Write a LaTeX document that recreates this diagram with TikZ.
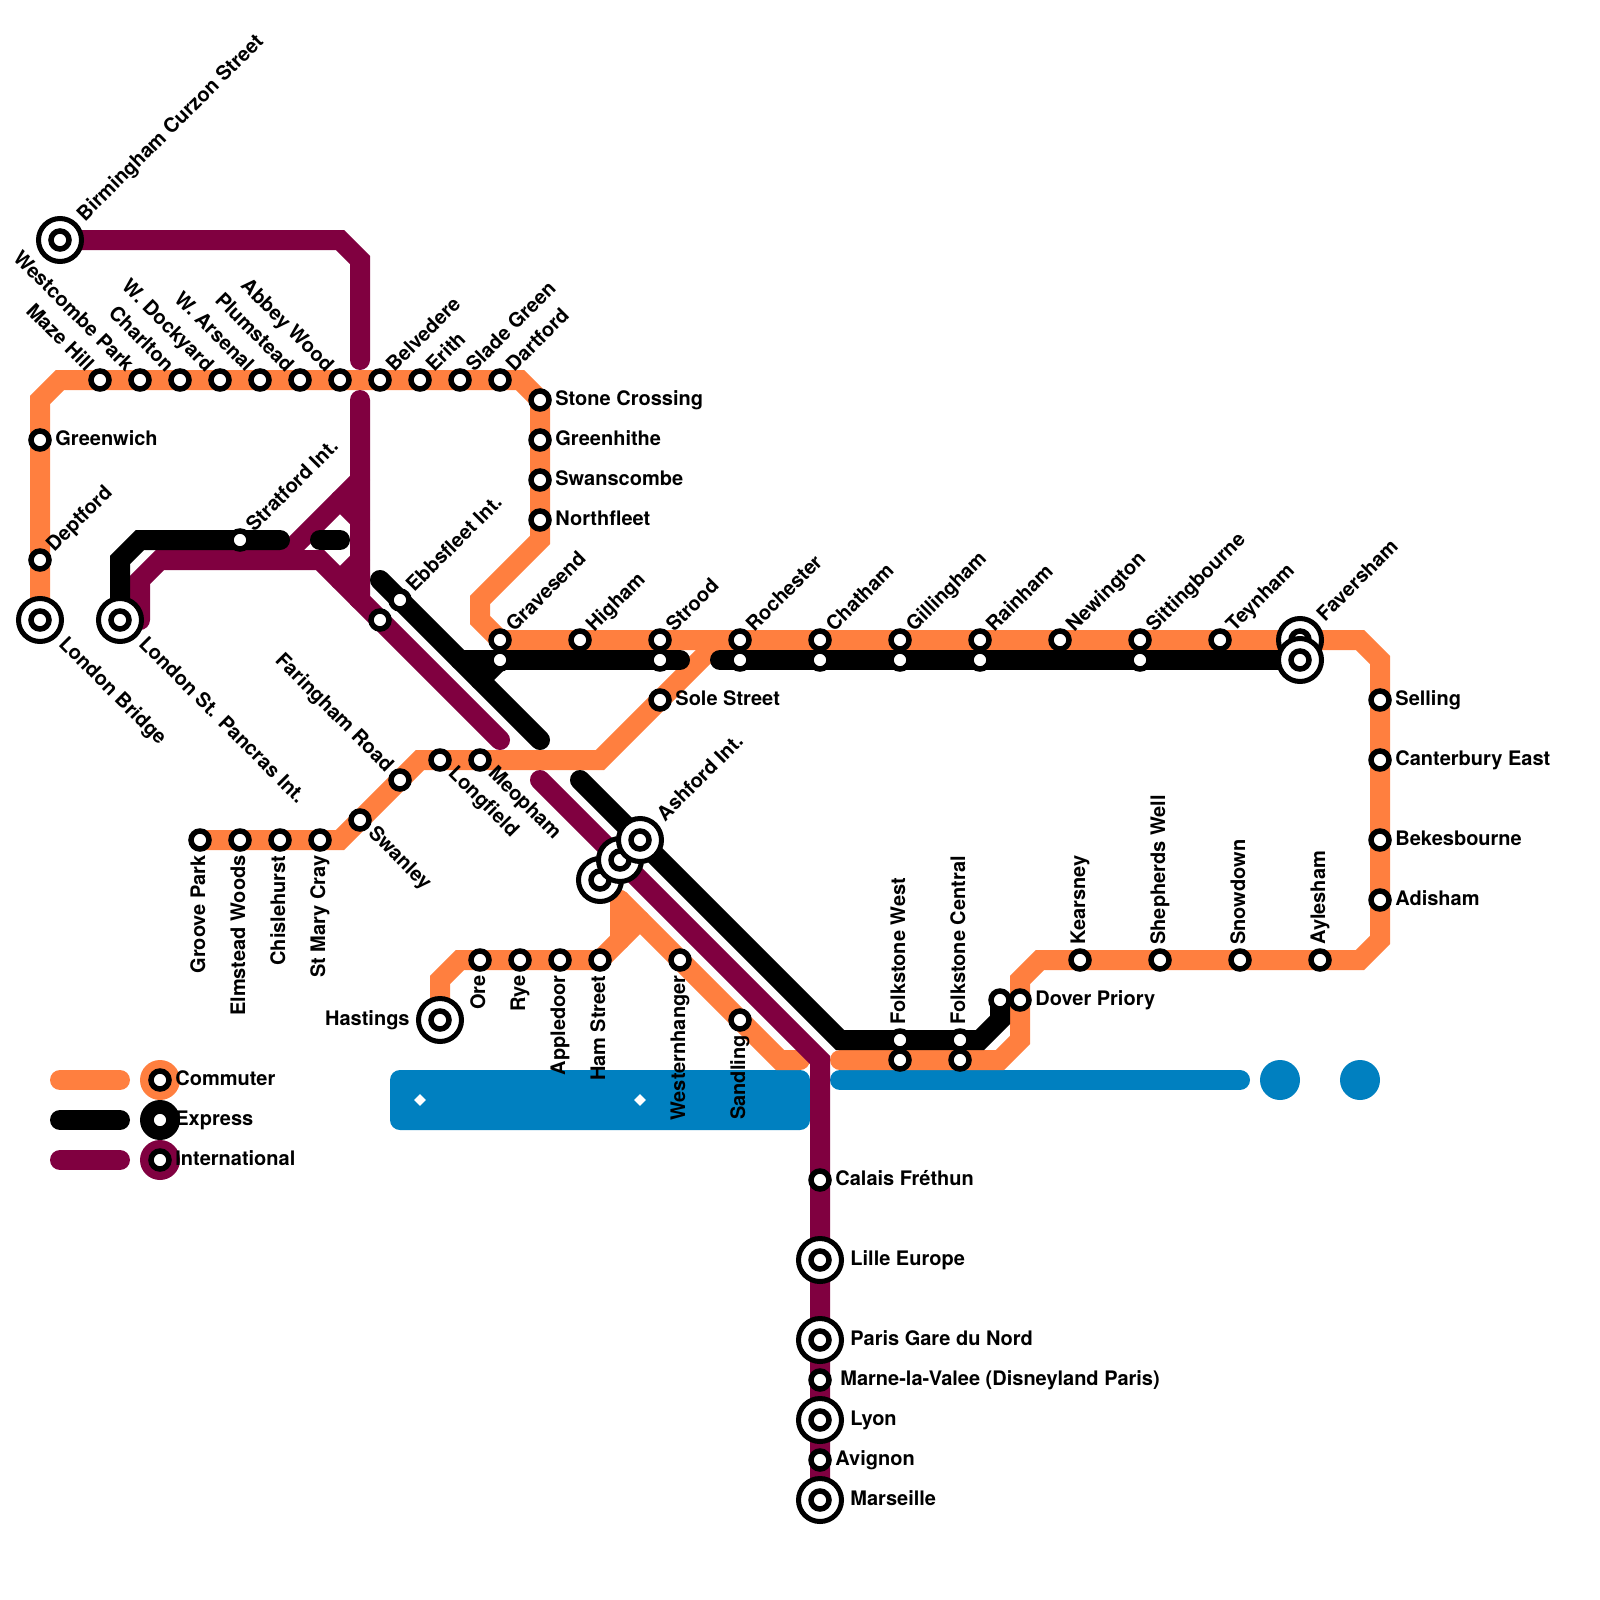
\documentclass[tikz,border=0pt]{standalone}
\usepackage{fontspec}
\setmainfont{TeX Gyre Heros}
\usetikzlibrary{shapes.geometric, backgrounds}

\definecolor{commutercol}{HTML}{FF7F3F}
\definecolor{intlcol}{HTML}{800040}
\definecolor{seacol}{HTML}{0080C0}

\begin{document}
\begin{tikzpicture}[
      x=0.5pt, y=-0.5pt,
      commuter/.style={draw=commutercol, line width=10pt, line cap=round},
      express/.style={draw=black, line width=10pt, line cap=round},
      intl/.style={draw=intlcol, line width=10pt, line cap=round},
      sea/.style={draw=seacol, line width=10pt, line cap=round},
      stn/.style={circle, draw=black, fill=white, line width=2.75pt, minimum size=9pt, inner sep=0pt, outer sep=0pt},
      bigstn/.style={circle, draw=black, fill=white, line width=2.5pt, minimum size=21.5pt, inner sep=0pt, outer sep=0pt, label={[stn]center:{}}},
      lab/.style={font=\bfseries\fontsize{10pt}{12pt}\selectfont, inner sep=0pt, text height=7pt, text depth=2pt},
      labE/.style={lab, anchor=west, xshift=7.5pt},
      labW/.style={lab, anchor=east, xshift=-7.5pt},
      labNE/.style={lab, rotate=45, anchor=west, xshift=7.5pt},
      labSE/.style={lab, rotate=-45, anchor=west, xshift=7.5pt},
      labNW/.style={lab, rotate=-45, anchor=east, xshift=-7.5pt},
      labN/.style={lab, rotate=90, anchor=west, xshift=7.5pt},
      labS/.style={lab, rotate=90, anchor=east, xshift=-7.5pt},
      far/.style={xshift=7.5pt}
    ]
    \useasboundingbox (0,0) rectangle (1600,1600);

    % top row
    \node[stn] (maze) at (100,380) {};
    \node[stn] (westcombe) at (140,380) {};
    \node[stn] (charlton) at (180,380) {};
    \node[stn] (dockyard) at (220,380) {};
    \node[stn] (arsenal) at (260,380) {};
    \node[stn] (plumstead) at (300,380) {};
    \node[stn] (abbey) at (340,380) {};
    \node[stn] (belvedere) at (380,380) {};
    \node[stn] (erith) at (420,380) {};
    \node[stn] (slade) at (460,380) {};
    \node[stn] (dartford) at (500,380) {};
    \node[labNW] (mazet) at (maze) {Maze Hill};
    \node[labNW] (westcombet) at (westcombe) {Westcombe Park};
    \node[labNW] (charltont) at (charlton) {Charlton};
    \node[labNW] (dockyardt) at (dockyard) {W. Dockyard};
    \node[labNW] (arsenalt) at (arsenal) {W. Arsenal};
    \node[labNW] (plumsteadt) at (plumstead) {Plumstead};
    \node[labNW] (abbeyt) at (abbey) {Abbey Wood};
    \node[labNE] (belvederet) at (belvedere) {Belvedere};
    \node[labNE] (eritht) at (erith) {Erith};
    \node[labNE] (sladet) at (slade) {Slade Green};
    \node[labNE] (dartfordt) at (dartford) {Dartford};

    % left side
    \node[stn] (greenwich) at (40,440) {};
    \node[stn] (deptford) at (40,560) {};
    \node[bigstn] (bridge) at (40,620) {};
    \node[bigstn] (pancras) at (120,620) {};
    \node[bigstn] (birmingham) at (60,240) {};
    \node[stn] (stratford) at (240,540) {};
    \node[labE] (greenwicht) at (greenwich) {Greenwich};
    \node[labNE] (deptfordt) at (deptford) {Deptford};
    \node[labSE, far] (bridget) at (bridge) {London Bridge};
    \node[labSE, far] (pancrast) at (pancras) {London St. Pancras Int.};
    \node[labNE, far] (birminghamt) at (birmingham) {Birmingham Curzon Street};
    \node[labNE] (stratfordt) at (stratford) {Stratford Int.};

    % down to Gravesend
    \node[stn] (stone) at (540,400) {};
    \node[stn] (greenhithe) at (540,440) {};
    \node[stn] (swanscombe) at (540,480) {};
    \node[stn] (northfleet) at (540,520) {};
    \node[stn] (ebbsfleetb) at (400,600) {};
    \node[stn] (ebbsfleet) at (380,620) {};
    \node[labE] (stonet) at (stone) {Stone Crossing};
    \node[labE] (greenhithet) at (greenhithe) {Greenhithe};
    \node[labE] (swanscombet) at (swanscombe) {Swanscombe};
    \node[labE] (northfleett) at (northfleet) {Northfleet};
    \node[labNE] (ebbsfleett) at (ebbsfleetb) {Ebbsfleet Int.};

    % main line, black stops first
    \node[stn] (gravesendb) at (500,660) {};
    \node[stn] (stroodb) at (660,660) {};
    \node[stn] (rochesterb) at (740,660) {};
    \node[stn] (chathamb) at (820,660) {};
    \node[stn] (gillinghamb) at (900,660) {};
    \node[stn] (rainhamb) at (980,660) {};
    \node[stn] (sittingb) at (1140,660) {};
    \node[stn] (gravesend) at (500,640) {};
    \node[stn] (higham) at (580,640) {};
    \node[stn] (strood) at (660,640) {};
    \node[stn] (rochester) at (740,640) {};
    \node[stn] (chatham) at (820,640) {};
    \node[stn] (gillingham) at (900,640) {};
    \node[stn] (rainham) at (980,640) {};
    \node[stn] (newington) at (1060,640) {};
    \node[stn] (sitting) at (1140,640) {};
    \node[stn] (teynham) at (1220,640) {};
    \node[bigstn] (faversham) at (1300,640) {};
    \node[bigstn] (favershamb) at (1300,660) {};
    \node[labNE] (gravesendt) at (gravesend) {Gravesend};
    \node[labNE] (highamt) at (higham) {Higham};
    \node[labNE] (stroodt) at (strood) {Strood};
    \node[labNE] (rochestert) at (rochester) {Rochester};
    \node[labNE] (chathamt) at (chatham) {Chatham};
    \node[labNE] (gillinghamt) at (gillingham) {Gillingham};
    \node[labNE] (rainhamt) at (rainham) {Rainham};
    \node[labNE] (newingtont) at (newington) {Newington};
    \node[labNE] (sittingt) at (sitting) {Sittingbourne};
    \node[labNE] (teynhamt) at (teynham) {Teynham};
    \node[labNE, far] (favershamt) at (faversham) {Faversham};

    % branch to Groove Park
    \node[stn] (sole) at (660,700) {};
    \node[stn] (meopham) at (480,760) {};
    \node[stn] (longfield) at (440,760) {};
    \node[stn] (faringham) at (400,780) {};
    \node[stn] (swanley) at (360,820) {};
    \node[stn] (cray) at (320,840) {};
    \node[stn] (chislehurst) at (280,840) {};
    \node[stn] (elmstead) at (240,840) {};
    \node[stn] (groove) at (200,840) {};
    \node[labE] (solet) at (sole) {Sole Street};
    \node[labSE] (meophamt) at (meopham) {Meopham};
    \node[labSE] (longfieldt) at (longfield) {Longfield};
    \node[labNW] (faringhamt) at (faringham) {Faringham Road};
    \node[labSE] (swanleyt) at (swanley) {Swanley};
    \node[labS] (crayt) at (cray) {St Mary Cray};
    \node[labS] (chislehurstt) at (chislehurst) {Chislehurst};
    \node[labS] (elmsteadt) at (elmstead) {Elmstead Woods};
    \node[labS] (groovet) at (groove) {Groove Park};

    % Ashford and the Hastings branch
    \node[bigstn] (ashc) at (600,880) {};
    \node[bigstn] (ashb) at (620,860) {};
    \node[bigstn] (ashford) at (640,840) {};
    \node[labNE, far] (ashfordt) at (ashford) {Ashford Int.};
    \node[stn] (ham) at (600,960) {};
    \node[stn] (appledoor) at (560,960) {};
    \node[stn] (rye) at (520,960) {};
    \node[stn] (ore) at (480,960) {};
    \node[bigstn] (hastings) at (440,1020) {};
    \node[stn] (westernhanger) at (680,960) {};
    \node[stn] (sandling) at (740,1020) {};
    \node[labS] (hamt) at (ham) {Ham Street};
    \node[labS] (appledoort) at (appledoor) {Appledoor};
    \node[labS] (ryet) at (rye) {Rye};
    \node[labS] (oret) at (ore) {Ore};
    \node[labW, xshift=-7.5pt] (hastingst) at (hastings) {Hastings};
    \node[labS] (westernhangert) at (westernhanger) {Westernhanger};
    \node[labS] (sandlingt) at (sandling) {Sandling};

    % coast
    \node[stn] (folkwb) at (900,1040) {};
    \node[stn] (folkcb) at (960,1040) {};
    \node[stn] (folkw) at (900,1060) {};
    \node[stn] (folkc) at (960,1060) {};
    \node[stn] (doverb) at (1000,1000) {};
    \node[stn] (dover) at (1020,1000) {};
    \node[stn] (kearsney) at (1080,960) {};
    \node[stn] (shepherds) at (1160,960) {};
    \node[stn] (snowdown) at (1240,960) {};
    \node[stn] (aylesham) at (1320,960) {};
    \node[stn] (adisham) at (1380,900) {};
    \node[stn] (bekesbourne) at (1380,840) {};
    \node[stn] (canterbury) at (1380,760) {};
    \node[stn] (selling) at (1380,700) {};
    \node[labN] (folkwt) at (folkwb) {Folkstone West};
    \node[labN] (folkct) at (folkcb) {Folkstone Central};
    \node[labE] (dovert) at (dover) {Dover Priory};
    \node[labN] (kearsneyt) at (kearsney) {Kearsney};
    \node[labN] (shepherdst) at (shepherds) {Shepherds Well};
    \node[labN] (snowdownt) at (snowdown) {Snowdown};
    \node[labN] (ayleshamt) at (aylesham) {Aylesham};
    \node[labE] (adishamt) at (adisham) {Adisham};
    \node[labE] (bekesbournet) at (bekesbourne) {Bekesbourne};
    \node[labE] (canterburyt) at (canterbury) {Canterbury East};
    \node[labE] (sellingt) at (selling) {Selling};

    % continent
    \node[stn] (calais) at (820,1180) {};
    \node[bigstn] (lille) at (820,1260) {};
    \node[bigstn] (paris) at (820,1340) {};
    \node[stn] (marne) at (820,1380) {};
    \node[bigstn] (lyon) at (820,1420) {};
    \node[stn] (avignon) at (820,1460) {};
    \node[bigstn] (marseille) at (820,1500) {};
    \node[labE] (calaist) at (calais) {Calais Fréthun};
    \node[labE, far] (lillet) at (lille) {Lille Europe};
    \node[labE, far] (parist) at (paris) {Paris Gare du Nord};
    \node[labE, xshift=2.5pt] (marnet) at (marne) {Marne-la-Valee (Disneyland Paris)};
    \node[labE, far] (lyont) at (lyon) {Lyon};
    \node[labE] (avignont) at (avignon) {Avignon};
    \node[labE, far] (marseillet) at (marseille) {Marseille};

    % legend
    \coordinate (keya) at (60,1080);
    \coordinate (keyb) at (120,1080);
    \coordinate (keyc) at (60,1120);
    \coordinate (keyd) at (120,1120);
    \coordinate (keye) at (60,1160);
    \coordinate (keyf) at (120,1160);
    \node[circle, fill=commutercol, minimum size=20pt, inner sep=0pt] (keycom) at (160,1080) {};
    \node[circle, fill=black, minimum size=20pt, inner sep=0pt] (keyexp) at (160,1120) {};
    \node[circle, fill=intlcol, minimum size=20pt, inner sep=0pt] (keyint) at (160,1160) {};
    \node[stn] (keycoms) at (keycom) {};
    \node[stn] (keyexps) at (keyexp) {};
    \node[stn] (keyints) at (keyint) {};
    \node[lab, anchor=west] (keycomt) at (175,1080) {Commuter};
    \node[lab, anchor=west] (keyexpt) at (175,1120) {Express};
    \node[lab, anchor=west] (keyintt) at (175,1160) {International};

    % loose ends
    \coordinate (stratfordw) at (280,540);
    \coordinate (stubw) at (320,540);
    \coordinate (stube) at (340,540);
    \coordinate (ashjoin) at (620,900);
    \coordinate (sandend) at (800,1060);
    \coordinate (forkr) at (720,640);
    \coordinate (coastend) at (840,1060);

    \begin{scope}[on background layer]
      % blue
      \fill[seacol, rounded corners=5pt] (390,1070) rectangle (810,1130);
      \draw[sea] (840,1080) -- (1240,1080);
      \fill[seacol] (1280,1080) circle (10pt);
      \fill[seacol] (1360,1080) circle (10pt);
      \node[diamond, fill=white, minimum size=6pt, inner sep=0pt] (marka) at (420,1100) {};
      \node[diamond, fill=white, minimum size=6pt, inner sep=0pt] (markb) at (640,1100) {};

      % commuter
      \draw[commuter] (keya) -- (keyb);
      \draw[commuter] (bridge.center) -- (40,400) -- (60,380) -- (520,380) -- (540,400) -- (540,540) -- (480,600) -- (480,620) -- (500,640) -- (1360,640) -- (1380,660) -- (1380,940) -- (1360,960) -- (1040,960) -- (1020,980) -- (1020,1040) -- (1000,1060) -- (coastend);
      \draw[commuter] (forkr) -- (600,760) -- (420,760) -- (340,840) -- (groove.center);
      \draw[commuter] (hastings.center) -- (440,980) -- (460,960) -- (600,960) -- (640,920);
      \draw[commuter] (ashjoin) -- (620,940);
      \draw[commuter] (ashjoin) -- (780,1060) -- (sandend);

      % international
      \draw[intl] (keye) -- (keyf);
      \draw[intl] (birmingham.center) -- (340,240) -- (360,260) -- (360,360);
      \draw[intl] (360,400) -- (360,600) -- (500,740);
      \draw[intl] (pancras.center) ++(20,0) -- (140,580) -- (160,560) -- (320,560) -- (360,600);
      \draw[intl] (280,560) -- (360,480);
      \draw[intl] (340,500) -- (360,520);
      \draw[intl] (340,580) -- (360,560);
      \draw[intl] (540,780) -- (820,1060) -- (marseille.center);

      % express
      \draw[express] (keyc) -- (keyd);
      \draw[express] (pancras.center) -- (120,560) -- (140,540) -- (stratfordw);
      \draw[express] (stubw) -- (stube);
      \draw[express] (380,580) -- (540,740);
      \draw[express] (460,660) -- (680,660);
      \draw[express] (gravesendb.center) -- (480,680);
      \draw[express] (720,660) -- (favershamb.center);
      \draw[express] (580,780) -- (840,1040) -- (980,1040) -- (1000,1020) -- (doverb.center);
    \end{scope}
  \end{tikzpicture}
\end{document}
